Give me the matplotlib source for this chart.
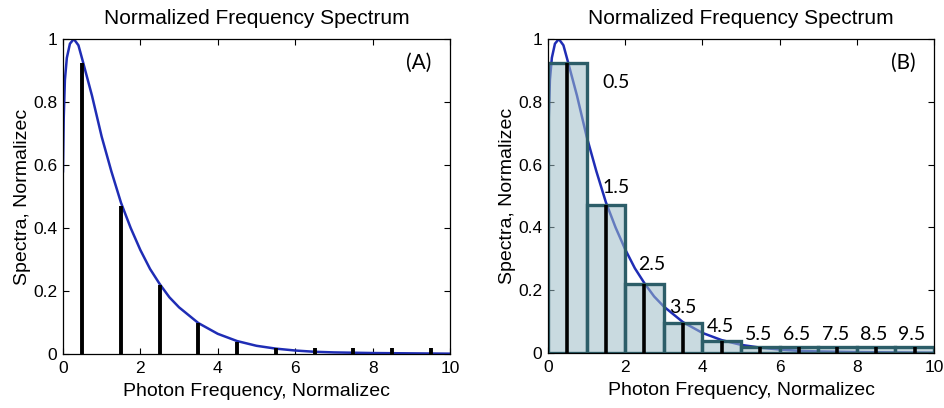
import matplotlib
matplotlib.use("Agg")
import matplotlib.pyplot as plt

# spectrum curve, read point by point
curve_x = [0.0, 0.02, 0.05, 0.1, 0.18, 0.28, 0.4, 0.5, 0.75, 1.0, 1.25, 1.5, 1.75,
           2.0, 2.25, 2.5, 2.75, 3.0, 3.5, 4.0, 4.5, 5.0, 5.5, 6.0, 6.5, 7.0, 8.0, 9.0, 10.0]
curve_y = [0.58, 0.75, 0.87, 0.94, 0.985, 1.0, 0.98, 0.935, 0.82, 0.69, 0.58, 0.48, 0.40,
           0.33, 0.27, 0.222, 0.18, 0.148, 0.098, 0.064, 0.041, 0.026, 0.017, 0.011,
           0.007, 0.005, 0.003, 0.002, 0.001]

# sampled bins
bin_centers = [0.5, 1.5, 2.5, 3.5, 4.5, 5.5, 6.5, 7.5, 8.5, 9.5]
bin_heights = [0.925, 0.47, 0.22, 0.097, 0.039, 0.018, 0.018, 0.018, 0.018, 0.018]
bin_labels = ["0.5", "1.5", "2.5", "3.5", "4.5", "5.5", "6.5", "7.5", "8.5", "9.5"]

x_ticks = [0, 2, 4, 6, 8, 10]
y_ticks = [0, 0.2, 0.4, 0.6, 0.8, 1]
y_ticklabels = ["0", "0.2", "0.4", "0.6", "0.8", "1"]

# where each bin label sits, relative to its bar
label_dx = [1.27, 0.26, 0.18, -0.02, -0.03, -0.04, -0.05, -0.06, -0.07, -0.08]
label_dy = [-0.09, 0.03, 0.035, 0.02, 0.019, 0.014, 0.014, 0.014, 0.014, 0.014]

plt.rcParams["font.family"] = ["Liberation Sans", "DejaVu Sans"]

fig = plt.figure(figsize=(9.44, 4.08), dpi=100)
ax_a = fig.add_axes([0.0667, 0.1324, 0.41, 0.772])
ax_b = fig.add_axes([0.5805, 0.1348, 0.4089, 0.7696])

curve_color = "#1f2db5"


def style_axes(ax):
    ax.set_xlim(0, 10)
    ax.set_ylim(0, 1)
    ax.set_xticks(x_ticks)
    ax.set_xticklabels([str(t) for t in x_ticks])
    ax.set_yticks(y_ticks)
    ax.set_yticklabels(y_ticklabels)
    ax.tick_params(direction="in", top=True, right=True, labelsize=12.5,
                   length=4, width=0.8)
    ax.tick_params(axis="x", pad=5)
    ax.tick_params(axis="y", pad=4)
    for s in ax.spines.values():
        s.set_linewidth(0.9)
    ax.set_title("Normalized Frequency Spectrum", fontsize=15, pad=11)
    ax.set_xlabel("Photon Frequency, Normalizec", fontsize=14, labelpad=5)
    ax.set_ylabel("Spectra, Normalizec", fontsize=14, labelpad=2)


# (A) curve with sample stems
ax_a.plot(curve_x, curve_y, color=curve_color, lw=1.8, zorder=2)
ax_a.vlines(bin_centers, 0, bin_heights, color="black", lw=2.8, zorder=3)
ax_a.text(9.2, 0.925, "(A)", fontsize=15, family=["Lato", "DejaVu Sans"],
          ha="center", va="center")
style_axes(ax_a)

# (B) same curve with the bins drawn as bars
ax_b.plot(curve_x, curve_y, color=curve_color, lw=1.8, zorder=1)
ax_b.bar(bin_centers, bin_heights, width=1.0,
         facecolor=(0.62, 0.74, 0.78, 0.55), edgecolor="#2c5d68",
         linewidth=2.4, zorder=2)
ax_b.vlines(bin_centers, 0, bin_heights, color="black", lw=2.6, zorder=3)
for c, h, lab, dx, dy in zip(bin_centers, bin_heights, bin_labels, label_dx, label_dy):
    ax_b.text(c + dx, h + dy, lab, fontsize=14, family=["Lato", "DejaVu Sans"],
              ha="center", va="bottom", zorder=4)
ax_b.text(9.2, 0.925, "(B)", fontsize=15, family=["Lato", "DejaVu Sans"],
          ha="center", va="center")
style_axes(ax_b)

fig.savefig("out.png", dpi=100)
